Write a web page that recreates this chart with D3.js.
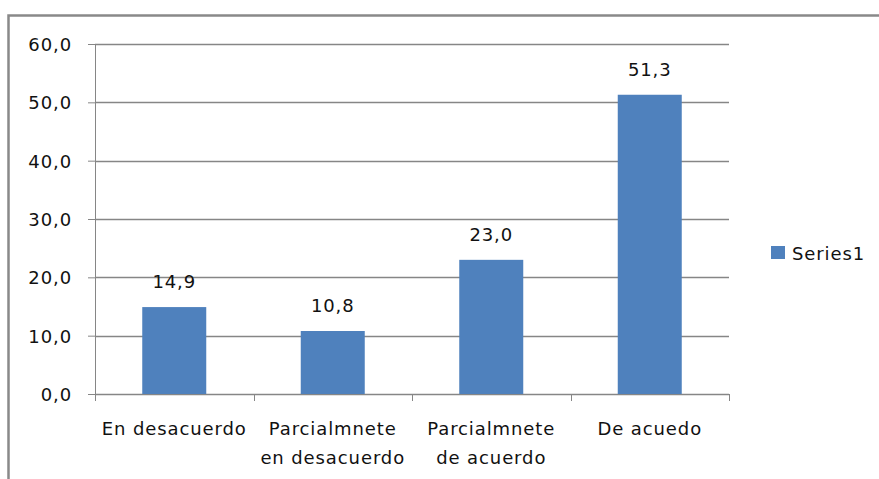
<!DOCTYPE html>
<html>
<head>
<meta charset="utf-8">
<script src="https://cdn.jsdelivr.net/npm/d3@7"></script>
<style>
  html, body { margin: 0; padding: 0; background: #fff; }
  svg { display: block; font-family: "DejaVu Sans", sans-serif; letter-spacing: 0.9px; }
</style>
</head>
<body>
<svg id="chart" width="879" height="479"></svg>
<script>
// Category labels (each entry is a list of lines) and the single series
const categories = [
  ["En desacuerdo"],
  ["Parcialmnete", "en desacuerdo"],
  ["Parcialmnete", "de acuerdo"],
  ["De acuedo"]
];
const series1 = [14.9, 10.8, 23.0, 51.3];
const yTicks = [0, 10, 20, 30, 40, 50, 60];
const seriesName = "Series1";

const svg = d3.select("#chart");
const fmt = v => v.toFixed(1).replace(".", ",");
const FS = 18;

const margin = { left: 95, top: 44 };
const plotW = 729 - margin.left;
const plotH = 394 - margin.top;

// outer chart frame (only the top and left edges are visible)
svg.append("path")
  .attr("d", `M8.5,479 V15.5 H879`)
  .attr("fill", "none")
  .attr("stroke", "#898989")
  .attr("stroke-width", 2.5);

const g = svg.append("g").attr("transform", `translate(${margin.left},${margin.top})`);

const x = d3.scaleBand().domain(d3.range(categories.length)).range([0, plotW]);
const y = d3.scaleLinear().domain([0, 60]).range([plotH, 0]);

// horizontal gridlines
g.selectAll("line.grid").data(yTicks).join("line")
  .attr("class", "grid")
  .attr("x1", 0).attr("x2", plotW)
  .attr("y1", d => Math.round(y(d)) + 0.5).attr("y2", d => Math.round(y(d)) + 0.5)
  .attr("stroke", "#868686").attr("stroke-width", 1.3);

// y axis
const yAxis = g.append("g").call(d3.axisLeft(y).tickValues(yTicks).tickFormat(fmt).tickSize(7).tickPadding(16));
yAxis.select(".domain").attr("stroke", "#868686").attr("d", `M0.5,0V${plotH}`);
yAxis.selectAll(".tick line").attr("stroke", "#868686");
yAxis.selectAll(".tick text")
  .attr("font-size", FS).attr("fill", "#111")
  .attr("font-family", "DejaVu Sans").attr("dy", "0.36em");

// x axis ticks at category boundaries
const bounds = d3.range(categories.length + 1).map(i => i * x.bandwidth());
g.selectAll("line.xtick").data(bounds).join("line")
  .attr("class", "xtick")
  .attr("x1", d => Math.round(d) + 0.5).attr("x2", d => Math.round(d) + 0.5)
  .attr("y1", plotH).attr("y2", plotH + 7)
  .attr("stroke", "#868686");

// bars
const barW = 64;
g.selectAll("rect.bar").data(series1).join("rect")
  .attr("class", "bar")
  .attr("x", (d, i) => x(i) + x.bandwidth() / 2 - barW / 2)
  .attr("y", d => y(d))
  .attr("width", barW)
  .attr("height", d => plotH - y(d))
  .attr("fill", "#4F81BD");

// value labels
g.selectAll("text.val").data(series1).join("text")
  .attr("class", "val")
  .attr("x", (d, i) => x(i) + x.bandwidth() / 2)
  .attr("y", d => y(d) - 19)
  .attr("text-anchor", "middle")
  .attr("font-size", FS)
  .attr("fill", "#111")
  .text(fmt);

// category labels
const cat = g.selectAll("text.cat").data(categories).join("text")
  .attr("class", "cat")
  .attr("text-anchor", "middle")
  .attr("font-size", FS)
  .attr("fill", "#111")
  .attr("transform", (d, i) => `translate(${x(i) + x.bandwidth() / 2},${plotH + 41})`);
cat.selectAll("tspan").data(d => d).join("tspan")
  .attr("x", 0)
  .attr("dy", (d, i) => i === 0 ? 0 : 29)
  .text(d => d);

// legend
const lg = svg.append("g").attr("transform", "translate(771,246)");
lg.append("rect").attr("width", 14).attr("height", 13).attr("fill", "#4F81BD");
lg.append("text").attr("x", 21).attr("y", 14).attr("font-size", FS).attr("fill", "#111").text(seriesName);
</script>
</body>
</html>
